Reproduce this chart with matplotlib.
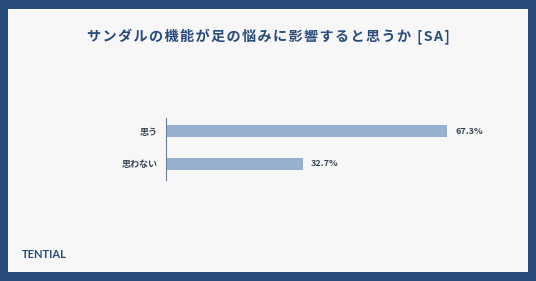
import matplotlib.pyplot as plt
from matplotlib.patches import Rectangle

plt.rcParams['font.family'] = ['Noto Sans CJK JP', 'DejaVu Sans']

categories = ["思う", "思わない"]
values = [67.3, 32.7]
title = "サンダルの機能が足の悩みに影響すると思うか [SA]"

W, H = 536, 281
navy = "#2a4c7d"
bar_color = "#98b0d0"
text_color = "#3a4658"

fig = plt.figure(figsize=(W / 100, H / 100), dpi=100)
fig.patch.set_facecolor(navy)
fig.patches.append(Rectangle((8 / W, 9 / H), 520 / W, 263 / H, transform=fig.transFigure,
                             facecolor="#f7f7f7", edgecolor="none", zorder=-5))

ax = fig.add_axes([166 / W, 1 - 180 / H, 334 / W, 62 / H])
ax.set_facecolor("none")
ypos = list(range(len(categories)))
ax.barh(ypos, values, height=0.36, color=bar_color)
for y, v in zip(ypos, values):
    ax.text(v + 2, y, f"{v}%", va="center", ha="left", fontsize=6.5,
            fontweight="bold", color=text_color)
ax.set_xlim(0, 80)
ax.set_ylim(1.485, -0.394)
ax.set_yticks(ypos)
ax.set_yticklabels(categories, fontsize=6.5, fontweight="bold", color=text_color)
ax.tick_params(axis="y", length=0, pad=6)
ax.set_xticks([])
for s in ["top", "right", "bottom"]:
    ax.spines[s].set_visible(False)
ax.spines["left"].set_color("#6f7f95")
ax.spines["left"].set_linewidth(0.8)

# 字間を少し空ける
spaced = "\u200a".join(title)
fig.text(0.5, 1 - 37 / H, spaced, ha="center", va="center", fontsize=10.2,
         fontweight="bold", color=navy)
fig.text(22 / W, 1 - 255 / H, "TENTIAL", ha="left", va="center", fontsize=8,
         fontweight="bold", color=navy, family=["Lato", "DejaVu Sans"])

fig.savefig("out.png", dpi=100, facecolor=navy)
